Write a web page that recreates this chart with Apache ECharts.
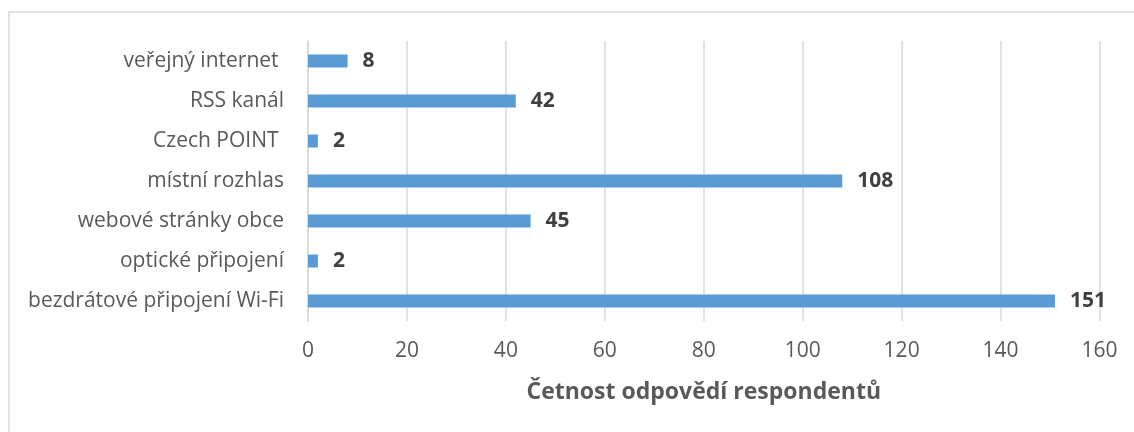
<!DOCTYPE html>
<html>
<head>
<meta charset="utf-8">
<script src="https://cdn.jsdelivr.net/npm/echarts@6/dist/echarts.min.js"></script>
<style>
html,body{margin:0;padding:0;background:#fff;}
#chart{width:1134px;height:432px;}
</style>
</head>
<body>
<div id="chart"></div>
<script>
// Categories listed bottom-to-top (as in the source chart)
const categories = [
  "bezdrátové připojení Wi-Fi",
  "optické připojení",
  "webové stránky obce",
  "místní rozhlas",
  "Czech POINT ",
  "RSS kanál",
  "veřejný internet "
];
const values = [151, 2, 45, 108, 2, 42, 8];
const axisTitle = "Četnost odpovědí respondentů";
const xMin = 0, xMax = 160, xStep = 20;

const FONT = '"Open Sans", "Noto Sans", sans-serif';
const chart = echarts.init(document.getElementById('chart'));
chart.setOption({
  animation: false,
  backgroundColor: '#ffffff',
  graphic: [{
    type: 'rect',
    shape: {x: 9, y: 12, width: 1200, height: 500},
    style: {fill: 'none', stroke: '#D9D9D9', lineWidth: 1.5},
    silent: true
  }],
  grid: {left: 308, right: 34.5, top: 41, bottom: 111, containLabel: false},
  xAxis: {
    type: 'value',
    min: xMin, max: xMax, interval: xStep,
    axisLine: {show: false},
    axisTick: {show: false},
    splitLine: {show: true, lineStyle: {color: '#D9D9D9', width: 1.5}},
    axisLabel: {color: '#595959', fontFamily: FONT, fontSize: 21, margin: 20},
    name: axisTitle,
    nameLocation: 'middle',
    nameGap: 60,
    nameTextStyle: {color: '#595959', fontFamily: FONT, fontSize: 23, fontWeight: 'bold'}
  },
  yAxis: {
    type: 'category',
    data: categories,
    axisLine: {show: true, lineStyle: {color: '#D9D9D9', width: 1.5}},
    axisTick: {show: false},
    splitLine: {show: false},
    axisLabel: {color: '#595959', fontFamily: FONT, fontSize: 21, margin: 24}
  },
  series: [{
    type: 'bar',
    data: values,
    barWidth: 13,
    itemStyle: {color: '#5B9BD5'},
    label: {
      show: true,
      position: 'right',
      distance: 15,
      color: '#404040',
      fontFamily: FONT,
      fontSize: 21,
      fontWeight: 'bold'
    }
  }]
});
</script>
</body>
</html>
